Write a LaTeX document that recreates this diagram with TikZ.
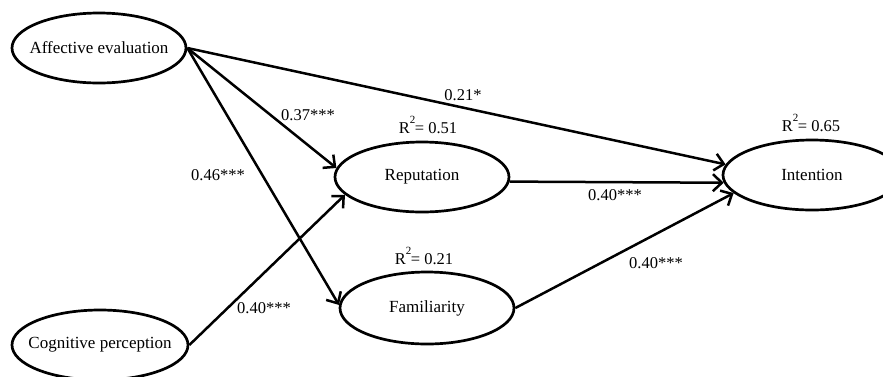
\documentclass[tikz,border=0pt]{standalone}
\usepackage{fontspec}
\setmainfont{Liberation Serif}
\usetikzlibrary{shapes.geometric,arrows.meta}

% R-squared label with the exponent set high above the R
\newcommand{\rsq}[1]{R\raisebox{10.5pt}{\fontsize{11}{11}\selectfont 2}\kern-0.5pt= #1}
% construct name that does not widen its ellipse
\newcommand{\cname}[1]{\makebox[0pt]{#1}}

\begin{document}
\begin{tikzpicture}[x=1pt,y=-1pt,
  construct/.style={ellipse,draw,line width=2.7pt,inner sep=0pt,
    font=\fontsize{17}{20}\selectfont},
  path coef/.style={font=\fontsize{16.5}{19}\selectfont,inner sep=1pt},
  rlabel/.style={font=\fontsize{16.5}{19}\selectfont,inner sep=1pt},
  arr/.style={line width=2.5pt,-{Straight Barb[length=9pt,width=17pt,line width=2.5pt]}}]
  \useasboundingbox (0,0) rectangle (883,376);

  % latent constructs
  \node[construct,minimum width=174pt,minimum height=70pt] (aff) at (99,48) {\cname{Affective evaluation}};
  \node[construct,minimum width=176pt,minimum height=70pt] (cog) at (100,345) {\cname{Cognitive perception}};
  \node[construct,minimum width=174pt,minimum height=70pt] (rep) at (422,177) {\cname{Reputation}};
  \node[construct,minimum width=174pt,minimum height=72pt] (fam) at (427,308) {\cname{Familiarity}};
  \node[construct,minimum width=178pt,minimum height=70pt] (int) at (812,175) {\cname{Intention}};

  % structural paths
  \draw[arr] (aff.east) -- (int.173);
  \draw[arr] (aff.east) -- (rep.174);
  \draw[arr] (aff.east) -- (fam.178);
  \draw[arr] (cog.east) -- (rep.193);
  \draw[arr] (rep.-3) -- (int.185);
  \draw[arr] (fam.east) -- (int.193);

  % path coefficients
  \node[path coef] (c1) at (463,95) {0.21*};
  \node[path coef] (c2) at (308,115) {0.37***};
  \node[path coef] (c3) at (218,175) {0.46***};
  \node[path coef] (c4) at (264,308) {0.40***};
  \node[path coef] (c5) at (615,195) {0.40***};
  \node[path coef] (c6) at (656,263) {0.40***};

  % explained variance
  \node[rlabel] (r1) at (428,125) {\rsq{0.51}};
  \node[rlabel] (r2) at (424,256) {\rsq{0.21}};
  \node[rlabel] (r3) at (811,123) {\rsq{0.65}};
\end{tikzpicture}
\end{document}
